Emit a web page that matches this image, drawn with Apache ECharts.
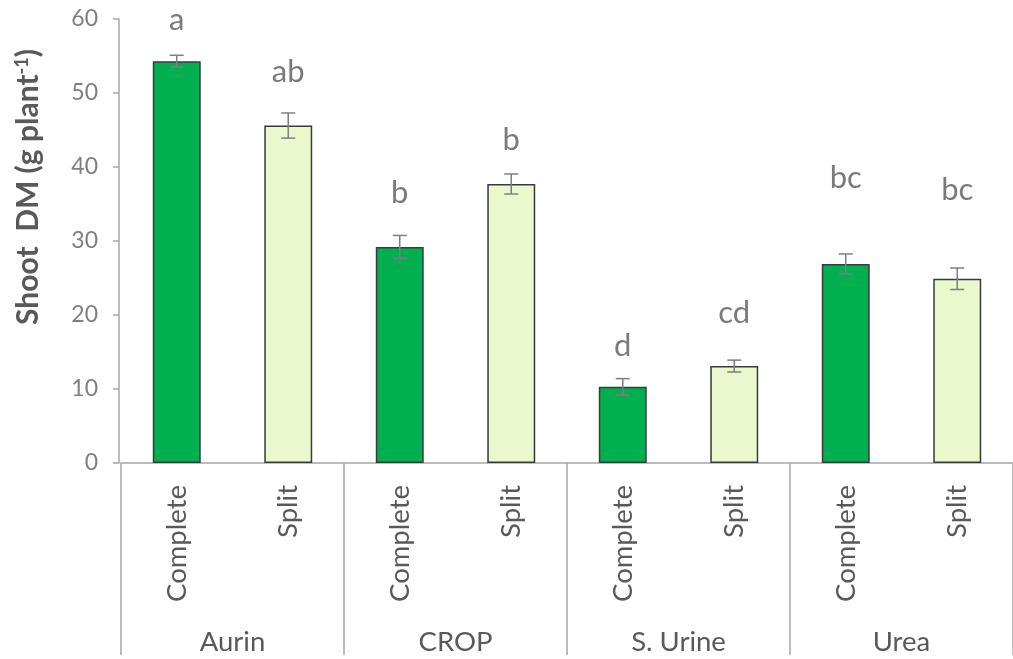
<!DOCTYPE html>
<html>
<head>
<meta charset="utf-8">
<script src="https://cdn.jsdelivr.net/npm/echarts@6/dist/echarts.min.js"></script>
<style>
  html, body { margin: 0; padding: 0; background: #ffffff; }
  #chart { width: 1013px; height: 659px; }
</style>
</head>
<body>
<div id="chart"></div>
<script>
// Shoot dry matter by fertiliser source and application mode
const groups = ['Aurin', 'CROP', 'S. Urine', 'Urea'];
const treatments = ['Complete', 'Split'];
const completeMean = [54.3, 29.2, 10.3, 26.9];
const completeErr = [0.8, 1.55, 1.1, 1.35];
const splitMean = [45.6, 37.7, 13.1, 24.9];
const splitErr = [1.7, 1.35, 0.8, 1.45];
// significance letters and the height (g plant-1) at which each is printed
const completeLetters = ['a', 'b', 'd', 'bc'];
const splitLetters = ['ab', 'b', 'cd', 'bc'];
const completeLetterY = [59.9, 36.5, 15.8, 38.5];
const splitLetterY = [52.8, 43.6, 20.3, 36.9];
const yTicks = { min: 0, max: 60, interval: 10 };

const FONT = 'Lato';
const COLORS = { Complete: '#00B050', Split: '#EBF7CC' };

// flatten groups x treatments into one category axis
const categories = [];
const means = [];
const errs = [];
const letters = [];
const letterY = [];
groups.forEach((g, i) => {
  treatments.forEach((t) => {
    categories.push(t);
    if (t === 'Complete') {
      means.push(completeMean[i]); errs.push(completeErr[i]);
      letters.push(completeLetters[i]); letterY.push(completeLetterY[i]);
    } else {
      means.push(splitMean[i]); errs.push(splitErr[i]);
      letters.push(splitLetters[i]); letterY.push(splitLetterY[i]);
    }
  });
});

const chart = echarts.init(document.getElementById('chart'), null, { renderer: 'canvas' });

const option = {
  backgroundColor: '#ffffff',
  animation: false,
  grid: { left: 121, right: -10, top: 19, bottom: 196, containLabel: false },
  xAxis: [
    {
      type: 'category',
      data: categories,
      position: 'bottom',
      axisLine: { show: true, lineStyle: { color: '#a6a6a6', width: 1.5 } },
      axisTick: { show: false },
      axisLabel: {
        rotate: 90, margin: 22, interval: 0,
        color: '#595959', fontFamily: FONT, fontSize: 27.5
      },
      splitLine: { show: false }
    },
    {
      type: 'category',
      data: groups,
      position: 'bottom',
      axisLine: { show: false },
      axisTick: { show: true, length: 192, interval: 0, lineStyle: { color: '#a6a6a6', width: 1.5 } },
      axisLabel: {
        margin: 165, interval: 0,
        color: '#595959', fontFamily: FONT, fontSize: 27.5
      },
      splitLine: { show: false }
    }
  ],
  yAxis: {
    type: 'value',
    min: yTicks.min, max: yTicks.max, interval: yTicks.interval,
    offset: 2,
    axisLine: { show: true, lineStyle: { color: '#a6a6a6', width: 1.5 } },
    axisTick: { show: true, length: 6, lineStyle: { color: '#a6a6a6', width: 1.5 } },
    axisLabel: { margin: 21, color: '#7f7f7f', fontFamily: FONT, fontSize: 23 },
    splitLine: { show: false }
  },
  graphic: [
    {
      type: 'text',
      x: 28, y: 187,
      rotation: Math.PI / 2,
      style: {
        text: '{t|Shoot  DM (g plant}{s|-1}{t|)}',
        align: 'center',
        verticalAlign: 'middle',
        rich: {
          t: { fontFamily: FONT, fontSize: 30, fontWeight: 'bold', fill: '#595959', color: '#595959' },
          s: { fontFamily: FONT, fontSize: 18, fontWeight: 'bold', fill: '#595959', color: '#595959', verticalAlign: 'top', padding: [0, 0, 10, 0] }
        }
      }
    }
  ],
  series: [
    {
      type: 'bar',
      xAxisIndex: 0,
      barWidth: '43%',
      data: means.map((v, i) => ({
        value: v,
        itemStyle: { color: COLORS[categories[i]] }
      })),
      itemStyle: { borderColor: '#3a3a3a', borderWidth: 1.5 },
      z: 2
    },
    {
      type: 'custom',
      xAxisIndex: 0,
      data: means.map((v, i) => [i, v - errs[i], v + errs[i]]),
      renderItem: function (params, api) {
        const x = api.value(0);
        const lo = api.coord([x, api.value(1)]);
        const hi = api.coord([x, api.value(2)]);
        const half = 7;
        const style = { stroke: '#7f7f7f', lineWidth: 1.5 };
        return {
          type: 'group',
          children: [
            { type: 'line', shape: { x1: lo[0], y1: lo[1], x2: hi[0], y2: hi[1] }, style },
            { type: 'line', shape: { x1: hi[0] - half, y1: hi[1], x2: hi[0] + half, y2: hi[1] }, style },
            { type: 'line', shape: { x1: lo[0] - half, y1: lo[1], x2: lo[0] + half, y2: lo[1] }, style }
          ]
        };
      },
      z: 3
    },
    {
      type: 'scatter',
      xAxisIndex: 0,
      symbolSize: 0,
      data: letterY.map((y, i) => [i, y]),
      label: {
        show: true,
        position: 'inside',
        formatter: (p) => letters[p.dataIndex],
        color: '#595959',
        fontFamily: FONT,
        fontSize: 31
      },
      z: 4
    }
  ]
};

chart.setOption(option);
</script>
</body>
</html>
